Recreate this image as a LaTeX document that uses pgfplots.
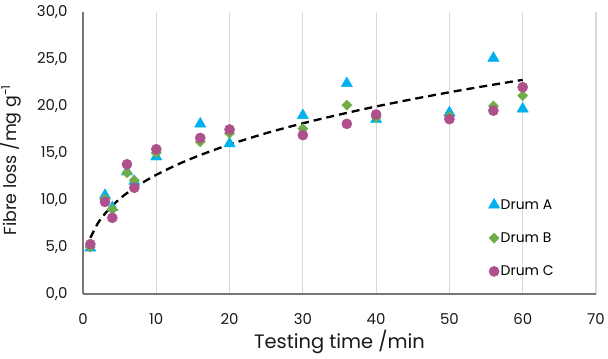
\documentclass[border=0pt]{standalone}
\usepackage{fontspec}
\setmainfont{Poppins}
\usepackage{pgfplots}
\pgfplotsset{compat=1.18}

\definecolor{drumA}{RGB}{0,176,240}
\definecolor{drumB}{RGB}{112,173,71}
\definecolor{drumC}{RGB}{174,80,140}
\definecolor{gridgray}{RGB}{217,217,217}
\definecolor{axisgray}{RGB}{118,118,118}

\begin{document}
\begin{tikzpicture}
\begin{axis}[
  at={(0,0)}, anchor=south west,
  scale only axis,
  width=513bp, height=282bp,
  xmin=0, xmax=70, ymin=0, ymax=30,
  xtick={0,10,...,70},
  ytick={0,5,...,30},
  axis x line=bottom, axis y line=left,
  axis line style={axisgray, line width=1.6bp, -},
  major tick length=0pt,
  xmajorgrids, grid style={gridgray, line width=1.1bp},
  tick label style={font=\fontsize{15}{17}\selectfont, text=black!90},
  /pgf/number format/assume math mode=true,
  yticklabel style={/pgf/number format/fixed, /pgf/number format/fixed zerofill,
    /pgf/number format/precision=1, /pgf/number format/use comma, xshift=-12bp},
  xticklabel style={yshift=-16bp},
  xlabel={Testing time /min},
  ylabel={Fibre loss /mg g\textsuperscript{-1}},
  xlabel style={font=\fontsize{19.5}{22}\selectfont, text=black!90, yshift=1bp},
  ylabel style={font=\fontsize{17.5}{21}\selectfont, text=black!90, yshift=9bp, xshift=-7bp},
  legend style={at={(0.79,0.34)}, anchor=north west, draw=none, fill=none,
    font=\fontsize{14}{16}\selectfont, row sep=20bp, inner sep=0pt,
    nodes={inner sep=1bp}},
  legend cell align=left,
  legend image code/.code={\draw[#1] plot coordinates {(0.1cm,0cm)};},
]
% Drum A
\addplot[only marks, mark=triangle*, mark size=6.5bp, color=drumA] coordinates {
  (1,4.9) (3,10.5) (4,9.2) (6,13.0) (7,12.0) (10,14.6) (16,18.1) (20,16.0)
  (30,19.0) (36,22.4) (40,18.6) (50,19.3) (56,25.1) (60,19.7)};
\addlegendentry{Drum A}
% Drum B
\addplot[only marks, mark=square*, mark size=3.6bp, mark options={rotate=45}, color=drumB] coordinates {
  (1,5.0) (3,10.1) (4,9.0) (6,12.9) (7,12.1) (10,15.0) (16,16.2) (20,17.1)
  (30,17.6) (36,20.1) (40,18.8) (50,18.9) (56,20.0) (60,21.1)};
\addlegendentry{Drum B}
% Drum C
\addplot[only marks, mark=*, mark size=5.1bp, color=drumC] coordinates {
  (1,5.3) (3,9.8) (4,8.1) (6,13.8) (7,11.3) (10,15.4) (16,16.6) (20,17.5)
  (30,16.9) (36,18.1) (40,19.1) (50,18.6) (56,19.5) (60,22.0)};
\addlegendentry{Drum C}
% trend line
\addplot[black, line width=2.3bp, dash pattern=on 8bp off 5bp, smooth, forget plot] coordinates {
  (1,5.97) (2,7.49) (3,8.55) (4,9.39) (5,10.11) (6,10.73) (8,11.78) (10,12.68)
  (13,13.81) (16,14.78) (20,15.90) (25,17.11) (30,18.16) (35,19.09) (40,19.95)
  (45,20.73) (50,21.46) (55,22.14) (60,22.78)};
\end{axis}
\pgfresetboundingbox
\useasboundingbox (-83bp,-65bp) rectangle (525bp,294bp);
\end{tikzpicture}
\end{document}
